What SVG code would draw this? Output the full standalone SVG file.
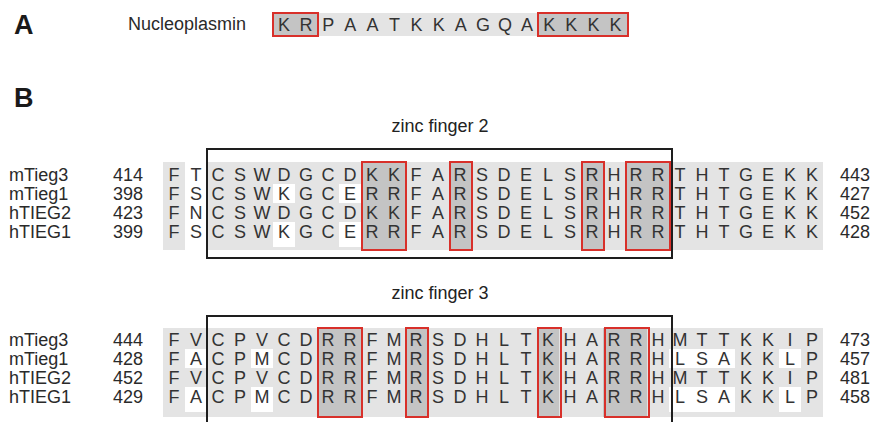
<svg xmlns="http://www.w3.org/2000/svg" width="877" height="422" viewBox="0 0 877 422">
<style>
text{font-family:"Liberation Sans",Arial,sans-serif;}
.pl{font-size:27px;font-weight:bold;fill:#1a1a1a;}
.lab{font-size:18px;fill:#2a2a2a;}
.res{font-size:18px;fill:#333;text-anchor:middle;}
.band{fill:#e4e4e4;}
.wh{fill:#ffffff;}
.dk{fill:#c4c4c4;}
.red{fill:none;stroke:#d8302a;stroke-width:2;}
.frame{fill:none;stroke:#1e1e1e;stroke-width:2;}
.title{font-size:18px;fill:#222;text-anchor:middle;}
</style>
<rect width="877" height="422" fill="#ffffff"/>

<g id="panel-a">
<text class="pl" x="14" y="34">A</text>
<text class="lab" x="128" y="30">Nucleoplasmin</text>
<rect class="band" x="273" y="13" width="355" height="23"/>
<rect class="dk" x="273" y="13" width="45" height="23"/>
<rect class="dk" x="538" y="13" width="90" height="23"/>
<rect class="red" x="273" y="13" width="45" height="23"/>
<rect class="red" x="538" y="13" width="90" height="23"/>
<text class="res" y="31" x="284 306.1 328.2 350.3 372.4 394.5 416.6 438.7 460.8 482.9 505 527.1 549.2 571.3 593.4 615.5">KRPAATKKAGQAKKKK</text>
</g>

<text class="pl" x="14" y="107">B</text>

<g id="zinc-finger-2">
<text class="title" x="440" y="132">zinc finger 2</text>
<rect class="band" x="163" y="162" width="660" height="88"/>
<rect class="wh" x="185" y="162" width="22" height="88"/>
<rect class="wh" x="273" y="184" width="22" height="19"/>
<rect class="wh" x="273" y="222" width="22" height="25"/>
<rect class="wh" x="339" y="184" width="22" height="19"/>
<rect class="wh" x="339" y="222" width="22" height="25"/>
<rect class="dk" x="361" y="162" width="44" height="88"/>
<rect class="dk" x="449" y="162" width="22" height="88"/>
<rect class="dk" x="581" y="162" width="22" height="88"/>
<rect class="dk" x="625" y="162" width="44" height="88"/>
<rect class="red" x="362" y="162" width="44" height="88"/>
<rect class="red" x="450" y="162" width="22" height="88"/>
<rect class="red" x="582" y="162" width="22" height="88"/>
<rect class="red" x="626" y="162" width="44" height="88"/>
<rect class="frame" x="207" y="149" width="465" height="109"/>
<g id="zf2-rows">
<text class="lab" x="9" y="181">mTieg3</text><text class="lab" x="113" y="181">414</text><text class="lab" x="840" y="181">443</text>
<text class="lab" x="9" y="200">mTieg1</text><text class="lab" x="113" y="200">398</text><text class="lab" x="840" y="200">427</text>
<text class="lab" x="9" y="219">hTIEG2</text><text class="lab" x="113" y="219">423</text><text class="lab" x="840" y="219">452</text>
<text class="lab" x="9" y="238">hTIEG1</text><text class="lab" x="113" y="238">399</text><text class="lab" x="840" y="238">428</text>
<text class="res" y="181" x="174 196 218 240 262 284 306 328 350 372 394 416 438 460 482 504 526 548 570 592 614 636 658 680 702 724 746 768 790 812">FTCSWDGCDKKFARSDELSRHRRTHTGEKK</text>
<text class="res" y="200" x="174 196 218 240 262 284 306 328 350 372 394 416 438 460 482 504 526 548 570 592 614 636 658 680 702 724 746 768 790 812">FSCSWKGCERRFARSDELSRHRRTHTGEKK</text>
<text class="res" y="219" x="174 196 218 240 262 284 306 328 350 372 394 416 438 460 482 504 526 548 570 592 614 636 658 680 702 724 746 768 790 812">FNCSWDGCDKKFARSDELSRHRRTHTGEKK</text>
<text class="res" y="238" x="174 196 218 240 262 284 306 328 350 372 394 416 438 460 482 504 526 548 570 592 614 636 658 680 702 724 746 768 790 812">FSCSWKGCERRFARSDELSRHRRTHTGEKK</text>
</g>
</g>

<g id="zinc-finger-3">
<text class="title" x="440" y="299">zinc finger 3</text>
<rect class="band" x="163" y="328" width="660" height="89"/>
<rect class="wh" x="185" y="349" width="22" height="19"/>
<rect class="wh" x="185" y="387" width="22" height="25"/>
<rect class="wh" x="251" y="349" width="22" height="19"/>
<rect class="wh" x="251" y="387" width="22" height="25"/>
<rect class="wh" x="669" y="349" width="66" height="19"/>
<rect class="wh" x="669" y="387" width="66" height="25"/>
<rect class="wh" x="779" y="349" width="22" height="19"/>
<rect class="wh" x="779" y="387" width="22" height="25"/>
<rect class="dk" x="317" y="328" width="44" height="89"/>
<rect class="dk" x="405" y="328" width="22" height="89"/>
<rect class="dk" x="537" y="328" width="22" height="89"/>
<rect class="dk" x="603" y="328" width="44" height="89"/>
<rect class="red" x="318" y="328" width="44" height="89"/>
<rect class="red" x="406" y="328" width="22" height="89"/>
<rect class="red" x="538" y="328" width="23" height="89"/>
<rect class="red" x="605" y="328" width="44" height="89"/>
<rect class="frame" x="207" y="316" width="465" height="120"/>
<g id="zf3-rows">
<text class="lab" x="9" y="346">mTieg3</text><text class="lab" x="113" y="346">444</text><text class="lab" x="840" y="346">473</text>
<text class="lab" x="9" y="365">mTieg1</text><text class="lab" x="113" y="365">428</text><text class="lab" x="840" y="365">457</text>
<text class="lab" x="9" y="384">hTIEG2</text><text class="lab" x="113" y="384">452</text><text class="lab" x="840" y="384">481</text>
<text class="lab" x="9" y="403">hTIEG1</text><text class="lab" x="113" y="403">429</text><text class="lab" x="840" y="403">458</text>
<text class="res" y="346" x="174 196 218 240 262 284 306 328 350 372 394 416 438 460 482 504 526 548 570 592 614 636 658 680 702 724 746 768 790 812">FVCPVCDRRFMRSDHLTKHARRHMTTKKIP</text>
<text class="res" y="365" x="174 196 218 240 262 284 306 328 350 372 394 416 438 460 482 504 526 548 570 592 614 636 658 680 702 724 746 768 790 812">FACPMCDRRFMRSDHLTKHARRHLSAKKLP</text>
<text class="res" y="384" x="174 196 218 240 262 284 306 328 350 372 394 416 438 460 482 504 526 548 570 592 614 636 658 680 702 724 746 768 790 812">FVCPVCDRRFMRSDHLTKHARRHMTTKKIP</text>
<text class="res" y="403" x="174 196 218 240 262 284 306 328 350 372 394 416 438 460 482 504 526 548 570 592 614 636 658 680 702 724 746 768 790 812">FACPMCDRRFMRSDHLTKHARRHLSAKKLP</text>
</g>
</g>
</svg>
